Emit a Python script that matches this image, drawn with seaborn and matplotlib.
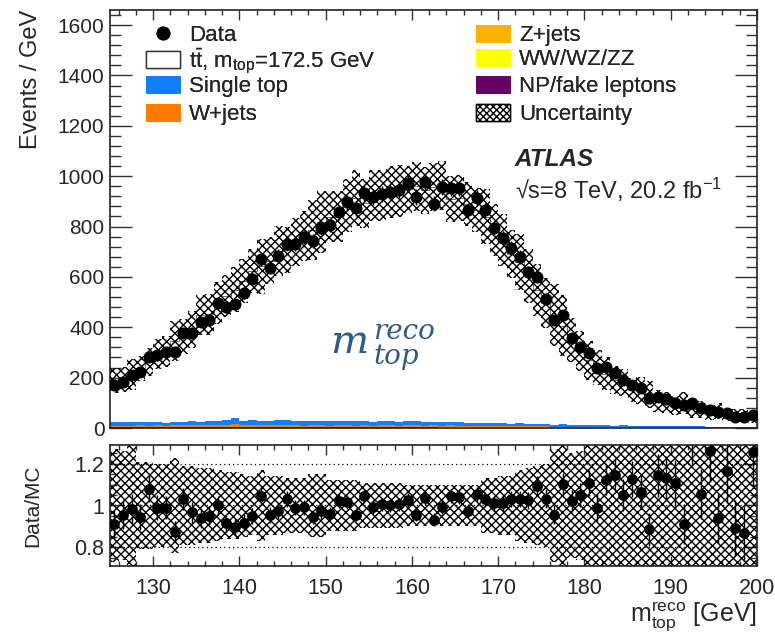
import numpy as np
import matplotlib
matplotlib.use("Agg")
import matplotlib.pyplot as plt
from matplotlib.patches import Patch
from matplotlib.lines import Line2D
from matplotlib.ticker import MultipleLocator
import seaborn as sns

sns.set_theme(style="ticks")
plt.rcParams['font.family'] = ['Liberation Sans', 'DejaVu Sans']
plt.rcParams['mathtext.fontset'] = 'custom'
plt.rcParams['mathtext.rm'] = 'Liberation Sans'
plt.rcParams['mathtext.it'] = 'Liberation Sans:italic'
plt.rcParams['mathtext.bf'] = 'Liberation Sans:bold'
plt.rcParams['mathtext.default'] = 'regular'
plt.rcParams['hatch.linewidth'] = 1.0

# ---------------- data (events / GeV, 1 GeV bins from 125 to 200) ----------------
bin_edges = list(range(125, 201))

data = [171, 183, 210, 222, 282, 290, 302, 302, 377, 377,
        421, 429, 496, 480, 492, 536, 591, 671, 635, 683,
        730, 730, 758, 742, 794, 806, 857, 897, 873, 933,
        917, 929, 937, 944, 972, 917, 976, 890, 956, 952,
        952, 865, 913, 865, 794, 754, 714, 679, 619, 599,
        512, 429, 448, 357, 321, 298, 238, 242, 218, 190,
        171, 159, 119, 123, 115, 99, 91, 99, 79, 71,
        63, 60, 44, 44, 52]

ratio = [0.91, 0.956, 0.985, 0.944, 1.079, 0.99, 0.99, 0.874, 1.033, 0.967,
         0.939, 0.951, 1.0, 0.915, 0.895, 0.918, 0.948, 1.046, 0.956, 0.972,
         1.033, 0.989, 0.992, 0.944, 0.972, 0.961, 1.021, 1.016, 0.956, 1.046,
         0.993, 1.005, 1.0, 1.005, 1.026, 0.956, 1.034, 0.931, 0.993, 1.046,
         1.043, 0.972, 1.054, 1.03, 1.01, 1.01, 1.033, 1.03, 1.025, 1.095,
         1.033, 0.956, 1.103, 1.021, 1.049, 1.108, 0.989, 1.12, 1.144, 1.049,
         1.128, 1.066, 0.885, 1.144, 1.131, 1.108, 0.911, 1.33, 1.054, 1.262,
         0.939, 1.164, 0.89, 0.866, 1.256]

rel_unc = [0.27, 0.26, 0.29, 0.21, 0.21, 0.20, 0.20, 0.23, 0.19, 0.19,
           0.18, 0.18, 0.17, 0.16, 0.16, 0.15, 0.14, 0.17, 0.14, 0.14,
           0.13, 0.13, 0.13, 0.15, 0.15, 0.12, 0.12, 0.12, 0.12, 0.11,
           0.11, 0.11, 0.11, 0.11, 0.10, 0.10, 0.10, 0.10, 0.10, 0.10,
           0.10, 0.10, 0.10, 0.13, 0.13, 0.14, 0.14, 0.17, 0.18, 0.19,
           0.20, 0.27, 0.30, 0.25, 0.26, 0.29, 0.29, 0.30, 0.30, 0.30,
           0.31, 0.36, 0.40, 0.40, 0.42, 0.42, 0.44, 0.45, 0.45, 0.46,
           0.48, 0.48, 0.50, 0.50, 0.52]

single_top = [14, 13, 14, 15, 14, 15, 13, 14, 15, 16, 15, 17, 18, 21, 24, 17, 19, 18, 17, 20,
              19, 18, 17, 16, 18, 17, 16, 15, 17, 16, 16, 15, 17, 16, 18, 17, 16, 15, 14, 15,
              14, 13, 12, 13, 12, 11, 10, 11, 10, 9, 9, 8, 9, 8, 7, 7, 8, 7, 6, 6,
              6, 5, 6, 5, 5, 5, 4, 5, 4, 4, 4, 3, 4, 3, 3]
w_jets = [5, 6, 5, 6, 5, 6, 5, 7, 6, 6, 7, 6, 7, 8, 12, 7, 8, 7, 8, 9,
          8, 7, 6, 8, 7, 6, 7, 8, 6, 7, 6, 8, 7, 6, 8, 7, 6, 7, 6, 7,
          6, 6, 5, 6, 5, 5, 4, 5, 4, 4, 4, 3, 4, 3, 3, 3, 3, 3, 2, 3,
          2, 2, 2, 2, 2, 2, 1, 2, 1, 1, 1, 1, 1, 1, 1]
z_jets = [1.2, 1.0, 1.1, 1.3, 1.0, 1.2, 1.1, 1.0, 1.3, 1.2, 1.1, 1.2, 1.4, 1.2, 1.5, 1.1, 1.3, 1.2, 1.1, 1.3,
          1.2, 1.1, 1.0, 1.2, 1.1, 1.0, 1.1, 1.2, 1.0, 1.1, 1.0, 1.1, 1.0, 1.0, 1.1, 1.0, 0.9, 1.0, 0.9, 0.9,
          0.9, 0.8, 0.8, 0.8, 0.7, 0.7, 0.7, 0.6, 0.6, 0.6, 0.5, 0.5, 0.5, 0.5, 0.4, 0.4, 0.4, 0.4, 0.3, 0.3,
          0.3, 0.3, 0.3, 0.3, 0.2, 0.2, 0.2, 0.2, 0.2, 0.2, 0.2, 0.1, 0.1, 0.1, 0.1]
diboson = [0.3, 0.3, 0.3, 0.3, 0.3, 0.3, 0.3, 0.3, 0.3, 0.3, 0.3, 0.3, 0.3, 0.3, 0.3, 0.3, 0.3, 0.3, 0.3, 0.3,
           0.3, 0.3, 0.3, 0.3, 0.3, 0.3, 0.3, 0.3, 0.3, 0.3, 0.3, 0.3, 0.3, 0.3, 0.3, 0.3, 0.2, 0.2, 0.2, 0.2,
           0.2, 0.2, 0.2, 0.2, 0.2, 0.2, 0.2, 0.2, 0.2, 0.2, 0.2, 0.2, 0.1, 0.1, 0.1, 0.1, 0.1, 0.1, 0.1, 0.1,
           0.1, 0.1, 0.1, 0.1, 0.1, 0.1, 0.1, 0.1, 0.1, 0.1, 0.1, 0.1, 0.1, 0.1, 0.1]
fakes = [2.5, 2.2, 2.4, 2.6, 2.3, 2.5, 2.4, 2.2, 2.6, 2.5, 2.4, 2.6, 2.8, 2.5, 3.0, 2.4, 2.6, 2.5, 2.3, 2.6,
         2.5, 2.4, 2.2, 2.4, 2.3, 2.2, 2.3, 2.4, 2.2, 2.3, 2.2, 2.3, 2.2, 2.1, 2.2, 2.1, 2.0, 2.0, 1.9, 1.9,
         1.8, 1.8, 1.7, 1.7, 1.6, 1.6, 1.5, 1.5, 1.4, 1.4, 1.3, 1.3, 1.2, 1.2, 1.1, 1.1, 1.0, 1.0, 1.0, 0.9,
         0.9, 0.9, 0.8, 0.8, 0.8, 0.7, 0.7, 0.7, 0.7, 0.6, 0.6, 0.6, 0.6, 0.5, 0.5]

legend_left = ["Data", r"$t\bar{t}$, m$_{top}$=172.5 GeV", "Single top", "W+jets"]
legend_right = ["Z+jets", "WW/WZ/ZZ", "NP/fake leptons", "Uncertainty"]

colors = {"Single top": "#0f7ffb", "W+jets": "#ff7a00", "Z+jets": "#ffb300",
          "WW/WZ/ZZ": "#ffff00", "NP/fake leptons": "#660066"}

# ---------------- derived arrays ----------------
edges = np.array(bin_edges, dtype=float)
centers = 0.5 * (edges[:-1] + edges[1:])
d = np.array(data, dtype=float)
r = np.array(ratio, dtype=float)
mc_total = d / r
unc = np.array(rel_unc) * mc_total

comp = [("NP/fake leptons", np.array(fakes)), ("WW/WZ/ZZ", np.array(diboson)),
        ("Z+jets", np.array(z_jets)), ("W+jets", np.array(w_jets)),
        ("Single top", np.array(single_top))]

# ---------------- figure ----------------
W, H = 775, 638
fig = plt.figure(figsize=(W / 100, H / 100), dpi=100)
ax1 = fig.add_axes([110 / W, 1 - 428 / H, 647 / W, 418 / H])
ax2 = fig.add_axes([110 / W, 1 - 566 / H, 647 / W, 121 / H])

HATCH = "xxxx"

# stacked backgrounds
base = np.zeros_like(mc_total)
for name, vals in comp:
    ax1.stairs(base + vals, edges, baseline=base, fill=True, color=colors[name], lw=0, zorder=2)
    base = base + vals
# ttbar on top
ax1.stairs(mc_total, edges, baseline=base, fill=True, facecolor="white", lw=0, zorder=1.5)
ax1.stairs(mc_total, edges, baseline=None, color="black", lw=0.4, zorder=2.5)
# uncertainty band
ax1.stairs(mc_total + unc, edges, baseline=mc_total - unc, fill=True, facecolor="none",
           edgecolor="black", hatch=HATCH, lw=0, zorder=3)
# data
ax1.errorbar(centers, d, yerr=np.sqrt(d), fmt="none", ecolor="black", elinewidth=1, zorder=4)
sns.scatterplot(x=centers, y=d, ax=ax1, color="black", s=75, linewidth=0, zorder=5, legend=False)

ax1.set_xlim(125, 200)
ax1.set_ylim(0, 1660)
ax1.yaxis.set_major_locator(MultipleLocator(200))
ax1.yaxis.set_minor_locator(MultipleLocator(40))
ax1.xaxis.set_major_locator(MultipleLocator(10))
ax1.xaxis.set_minor_locator(MultipleLocator(2))
ax1.tick_params(axis="both", which="both", direction="in", top=True, right=True,
                labelbottom=False, labelsize=15, width=1, color="#333333")
ax1.tick_params(axis="y", which="major", length=15.8, pad=4)
ax1.tick_params(axis="y", which="minor", length=7.9)
ax1.tick_params(axis="x", which="major", length=7.2)
ax1.tick_params(axis="x", which="minor", length=3.6)
ax1.set_ylabel("Events / GeV", fontsize=17, loc="top")
ax1.yaxis.set_label_coords(-0.105, 1.0)

# ratio panel
rel = np.array(rel_unc)
ax2.stairs(1 + rel, edges, baseline=1 - rel, fill=True, facecolor="none",
           edgecolor="black", hatch=HATCH, lw=0, zorder=2)
for yv in (0.8, 1.0, 1.2):
    ax2.axhline(yv, color="black", lw=0.9, ls=(0, (1, 2.5)), zorder=1)
ax2.errorbar(centers, r, yerr=np.sqrt(d) / mc_total, fmt="none", ecolor="black",
             elinewidth=1, zorder=4)
sns.scatterplot(x=centers, y=r, ax=ax2, color="black", s=60, linewidth=0, zorder=5, legend=False)
ax2.set_xlim(125, 200)
ax2.set_ylim(0.71, 1.29)
ax2.yaxis.set_major_locator(MultipleLocator(0.2))
ax2.yaxis.set_minor_locator(MultipleLocator(0.05))
ax2.yaxis.set_major_formatter(plt.FuncFormatter(lambda v, p: f"{v:g}"))
ax2.xaxis.set_major_locator(MultipleLocator(10))
ax2.xaxis.set_minor_locator(MultipleLocator(2))
ax2.tick_params(axis="both", which="both", direction="in", top=True, right=True,
                labelsize=15.5, width=1, color="#333333")
ax2.tick_params(axis="y", which="major", length=9.4, pad=4)
ax2.tick_params(axis="y", which="minor", length=4.7)
ax2.tick_params(axis="x", which="major", length=7.2, pad=9)
ax2.tick_params(axis="x", which="minor", length=3.6)
ax2.set_ylabel("Data/MC", fontsize=15)
ax2.yaxis.set_label_coords(-0.105, 0.5)

for ax in (ax1, ax2):
    for s in ax.spines.values():
        s.set_linewidth(1.2)
        s.set_color("#222222")

fig.text(757 / W, 1 - 617 / H, r"m$_{top}^{reco}$ [GeV]", fontsize=18, ha="right", va="center")

# legends (one entry per row, placed at the reference row positions)
hl = [Line2D([], [], marker="o", ls="none", color="black", markersize=9),
      Patch(facecolor="white", edgecolor="#333333", lw=1),
      Patch(facecolor=colors["Single top"], edgecolor=colors["Single top"], lw=0.5),
      Patch(facecolor=colors["W+jets"], edgecolor=colors["W+jets"], lw=0.5)]
hr = [Patch(facecolor=colors["Z+jets"], edgecolor=colors["Z+jets"], lw=0.5),
      Patch(facecolor=colors["WW/WZ/ZZ"], edgecolor=colors["WW/WZ/ZZ"], lw=0.5),
      Patch(facecolor=colors["NP/fake leptons"], edgecolor=colors["NP/fake leptons"], lw=0.5),
      Patch(facecolor="white", edgecolor="black", hatch="xxxxx", lw=1)]
kw = dict(loc="center left", frameon=False, fontsize=16, handlelength=1.55, handleheight=0.8,
          handletextpad=0.4, borderpad=0, borderaxespad=0)
rows_left = [35.5, 61, 86.5, 114.5]
rows_right = [35.5, 59.5, 86.5, 114.5]
for h, lab, yy in zip(hl, legend_left, rows_left):
    fig.add_artist(fig.legend([h], [lab], bbox_to_anchor=(146 / W, 1 - yy / H), **kw))
for h, lab, yy in zip(hr, legend_right, rows_right):
    fig.add_artist(fig.legend([h], [lab], bbox_to_anchor=(476 / W, 1 - yy / H), **kw))

# ATLAS label
fig.text(515 / W, 1 - 160 / H, "ATLAS", fontsize=17.5, fontweight="bold", fontstyle="italic", va="center")
fig.text(515 / W, 1 - 190 / H, "\u221as=8 TeV, 20.2 fb$^{-1}$", fontsize=17, va="center")

# blue annotation
blue = "#2e5a8e"
fig.text(330 / W, 1 - 353 / H, "m", family="DejaVu Serif", style="italic", fontsize=29,
         color=blue, va="baseline")
fig.text(373 / W, 1 - 339 / H, "reco", family="DejaVu Serif", style="italic", fontsize=20,
         color=blue, va="baseline")
fig.text(373 / W, 1 - 364 / H, "top", family="DejaVu Serif", style="italic", fontsize=20,
         color=blue, va="baseline")

fig.savefig("out.png", dpi=100)
